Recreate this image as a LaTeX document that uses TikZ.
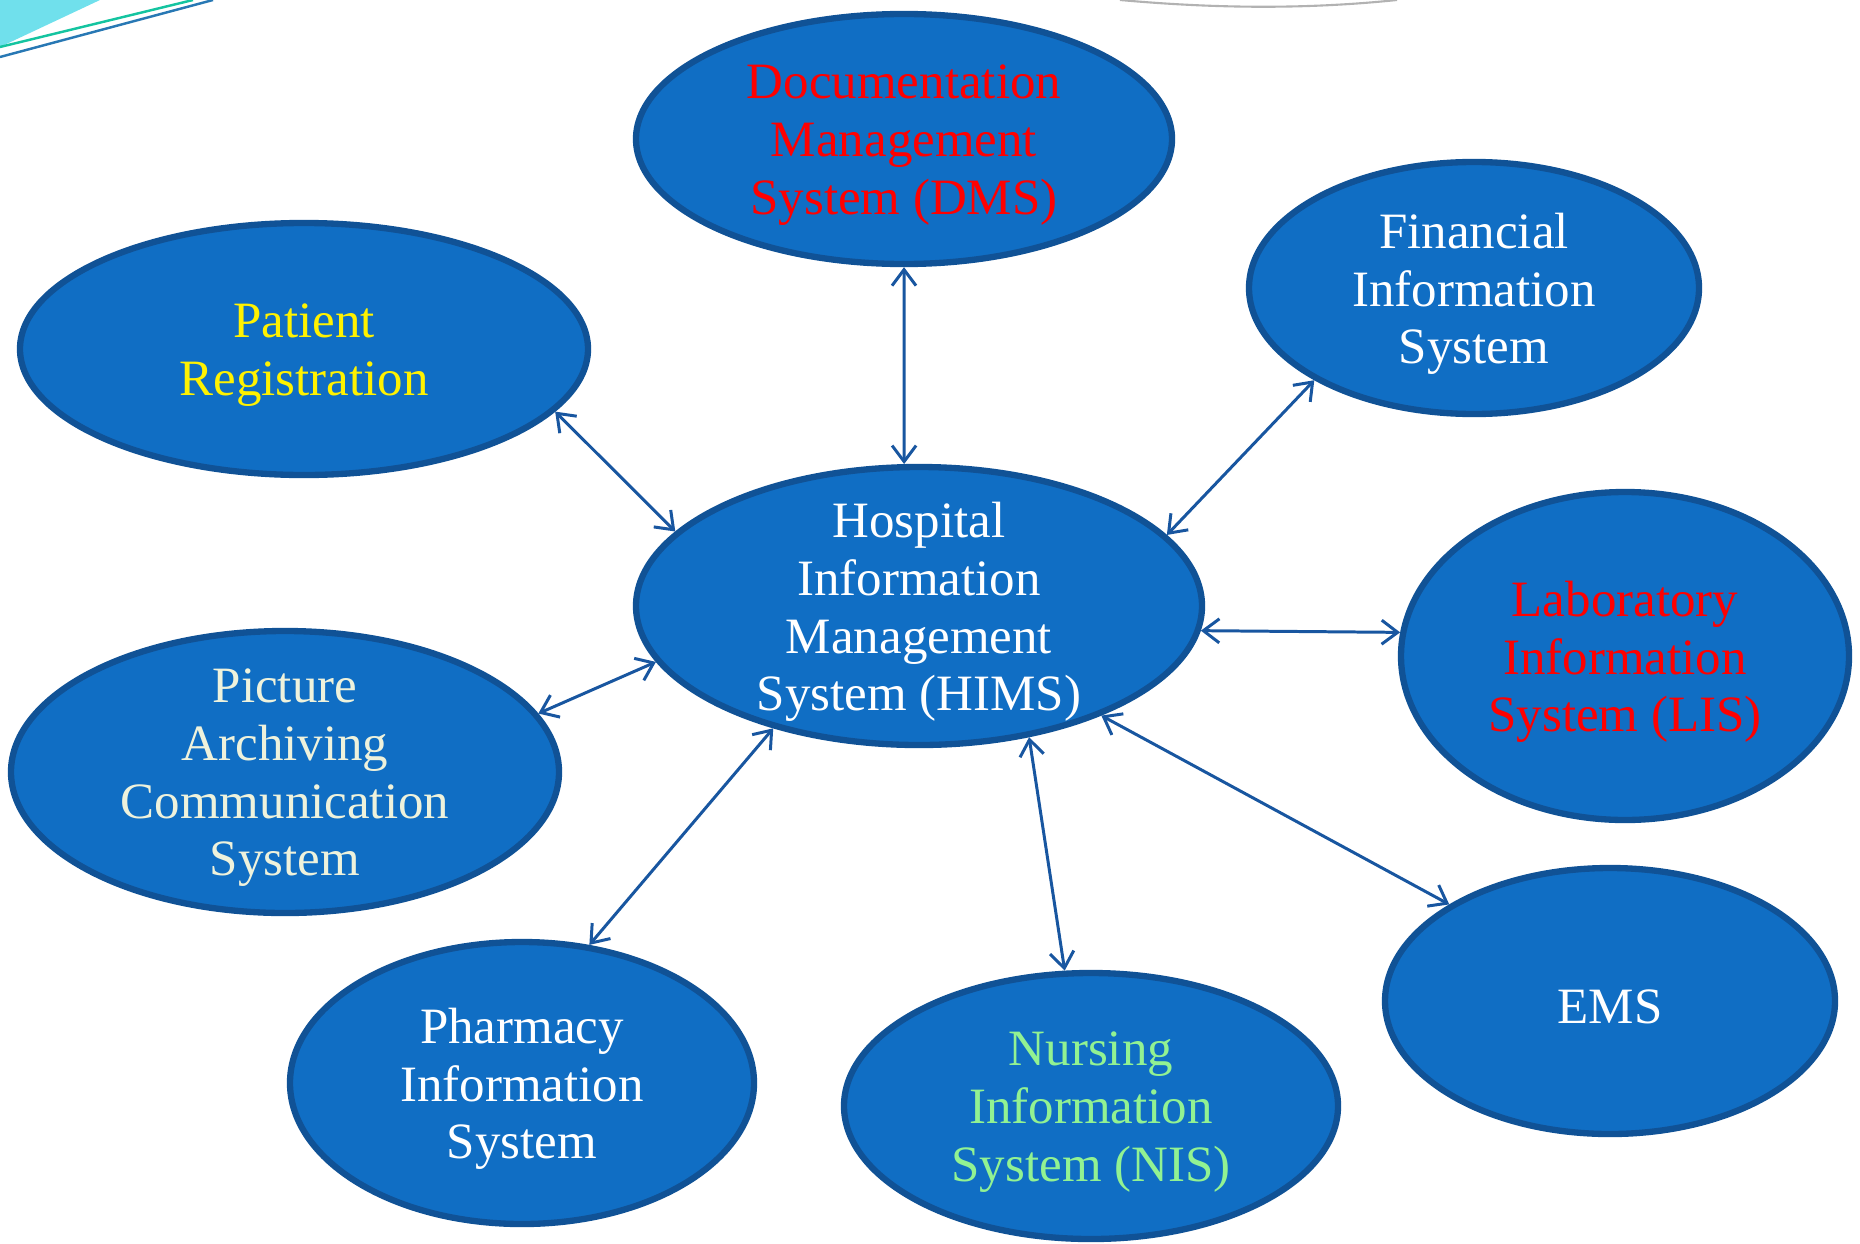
\documentclass[tikz,border=0pt]{standalone}
\usepackage{fontspec}
\setmainfont{Liberation Serif}
\usetikzlibrary{shapes.geometric,arrows.meta}
\definecolor{ovalfill}{RGB}{16,110,196}
\definecolor{ovaledge}{RGB}{16,82,150}
\definecolor{linkblue}{RGB}{24,86,160}
\definecolor{nisgreen}{RGB}{146,242,146}
\definecolor{pacscream}{RGB}{238,242,220}
\definecolor{decocyan}{RGB}{112,224,236}
\definecolor{decogreen}{RGB}{20,196,160}
\definecolor{decoblue}{RGB}{40,120,180}
\tikzset{sys/.style={ellipse,draw=ovaledge,fill=ovalfill,line width=1.8pt,inner sep=0pt},
         txt/.style={align=center,text=white,yshift=-0.06cm,font=\fontsize{14.5}{16.4}\selectfont}
}
\tikzstyle{arrow} = [linkblue,line width=0.85pt,{Straight Barb[length=1.6mm,width=2.4mm]}-{Straight Barb[length=1.6mm,width=2.4mm]}]

\begin{document}
\begin{tikzpicture}
\useasboundingbox (0,0) rectangle (18.6,12.43);

% slide decoration
\fill[decocyan] (0,12.43) -- (1.0,12.43) -- (0,11.96) -- cycle;
\draw[decogreen,line width=0.7pt] (0,11.96) -- (1.93,12.43);
\draw[decoblue,line width=0.7pt] (0,11.86) -- (2.13,12.43);
\draw[gray!60,line width=0.6pt] (11.2,12.43) .. controls (12.2,12.34) and (13.1,12.34) .. (13.97,12.43);

\node[sys,minimum width=5.66cm,minimum height=2.78cm,label={[txt]center:Hospital\\Information\\Management\\System (HIMS)}] (hims) at (9.19,6.37) {};
\node[sys,minimum width=5.36cm,minimum height=2.50cm,label={[txt,text=red]center:Documentation\\Management\\System (DMS)}] (dms) at (9.04,11.04) {};
\node[sys,minimum width=5.68cm,minimum height=2.52cm,label={[txt,text=yellow]center:Patient\\Registration}] (pr) at (3.04,8.94) {};
\node[sys,minimum width=4.50cm,minimum height=2.52cm,label={[txt]center:Financial\\Information\\System}] (fin) at (14.74,9.55) {};
\node[sys,minimum width=4.48cm,minimum height=3.28cm,label={[txt,text=red]center:Laboratory\\Information\\System (LIS)}] (lis) at (16.25,5.87) {};
\node[sys,minimum width=5.48cm,minimum height=2.82cm,label={[txt,text=pacscream]center:Picture\\Archiving\\Communication\\System}] (pacs) at (2.85,4.71) {};
\node[sys,minimum width=4.64cm,minimum height=2.82cm,label={[txt]center:Pharmacy\\Information\\System}] (pha) at (5.22,1.60) {};
\node[sys,minimum width=4.94cm,minimum height=2.66cm,label={[txt,text=nisgreen]center:Nursing\\Information\\System (NIS)}] (nis) at (10.91,1.37) {};
\node[sys,minimum width=4.50cm,minimum height=2.66cm,label={[txt]center:EMS}] (ems) at (16.10,2.42) {};

\draw[arrow] (dms.south) -- (hims.96);
\draw[arrow] (pr.-14) -- (hims.163);
\draw[arrow] (fin.210) -- (hims.16);
\draw[arrow] (hims.-5) -- (lis.174);
\draw[arrow] (pacs.13) -- (hims.192);
\draw[arrow] (pha.64) -- (hims.220);
\draw[arrow] (hims.-50) -- (nis.101);
\draw[arrow] (hims.-31) -- (ems.149);

\end{tikzpicture}
\end{document}
